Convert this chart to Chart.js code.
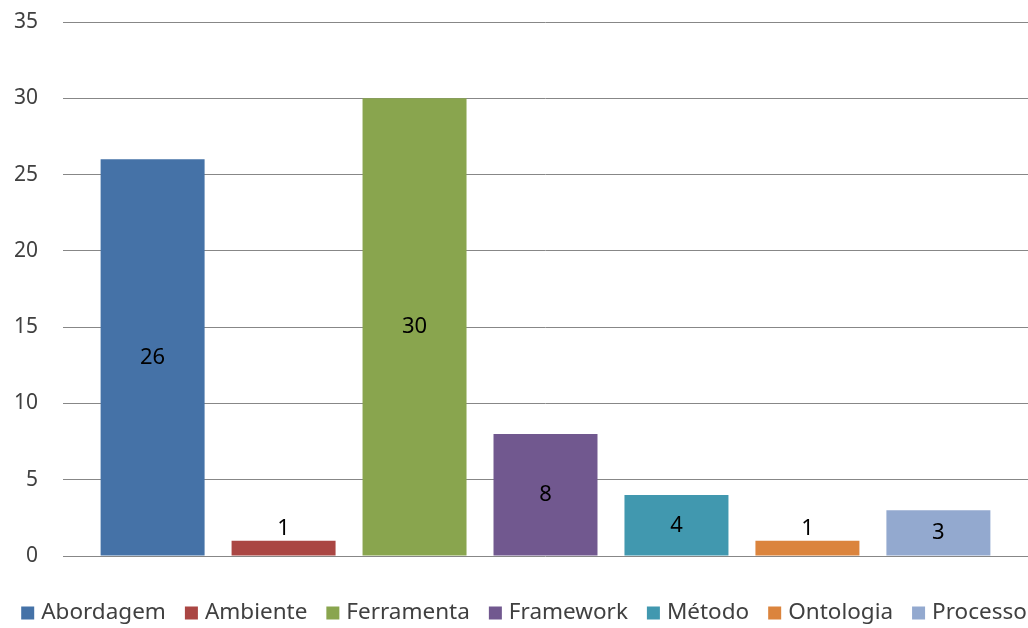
<!DOCTYPE html>
<html>
<head>
<meta charset="utf-8">
<script src="https://cdn.jsdelivr.net/npm/chart.js@4"></script>
<style>
  html, body { margin: 0; padding: 0; background: #fff; overflow: hidden; }
  .wrap { position: relative; width: 1028px; height: 628px; }
</style>
</head>
<body>
<div class="wrap"><canvas id="chart"></canvas></div>
<script>
// Categories (one series each, as in the original sheet)
const seriesNames = ['Abordagem', 'Ambiente', 'Ferramenta', 'Framework', 'Método', 'Ontologia', 'Processo'];
const seriesValues = [26, 1, 30, 8, 4, 1, 3];
const seriesColors = ['#4572A7', '#AA4643', '#89A54E', '#71588F', '#4198AF', '#DB843D', '#93A9CF'];
const yTicks = [0, 5, 10, 15, 20, 25, 30, 35];

const FONT = '"Noto Sans", "Open Sans", sans-serif';

// value labels: centred in the bar, or just above it when the bar is too short
const valueLabels = {
    id: 'valueLabels',
    afterDatasetsDraw: function (chart) {
        const ctx = chart.ctx;
        ctx.save();
        ctx.font = '22px ' + FONT;
        ctx.fillStyle = '#000';
        ctx.textAlign = 'center';
        ctx.textBaseline = 'middle';
        chart.data.datasets.forEach(function (ds, i) {
            const bar = chart.getDatasetMeta(i).data[0];
            if (!bar) return;
            const h = bar.base - bar.y;
            const y = h > 30 ? (bar.y + bar.base) / 2 : bar.y - 12;
            ctx.fillText(String(ds.data[0]), bar.x, y);
        });
        ctx.restore();
    }
};

// Excel-style legend row along the bottom (tighter spacing than Chart.js's own)
const bottomLegend = {
    id: 'bottomLegend',
    afterDraw: function (chart) {
        const ctx = chart.ctx;
        const box = 13, gap = 7, space = 19, yMid = 613;
        ctx.save();
        ctx.font = '22.5px ' + FONT;
        ctx.textBaseline = 'middle';
        const items = chart.data.datasets.map(function (ds) {
            return { text: ds.label, color: ds.backgroundColor, w: ctx.measureText(ds.label).width };
        });
        let total = -space;
        items.forEach(function (it) { total += box + gap + it.w + space; });
        let x = (chart.width - total) / 2 + 10;
        items.forEach(function (it) {
            ctx.fillStyle = it.color;
            ctx.fillRect(x, yMid - box / 2, box, box);
            ctx.fillStyle = '#404040';
            ctx.fillText(it.text, x + box + gap, yMid);
            x += box + gap + it.w + space;
        });
        ctx.restore();
    }
};

new Chart(document.getElementById('chart'), {
    type: 'bar',
    data: {
        labels: [''],
        datasets: seriesNames.map(function (name, i) {
            return {
                label: name,
                data: [seriesValues[i]],
                backgroundColor: seriesColors[i],
                borderWidth: 0,
                categoryPercentage: 0.95,
                barPercentage: 0.794
            };
        })
    },
    options: {
        responsive: true,
        maintainAspectRatio: false,
        animation: false,
        layout: { padding: { top: 22, right: 0, bottom: 72, left: 0 } },
        scales: {
            x: { display: false },
            y: {
                min: 0, max: 35,
                afterBuildTicks: function (scale) {
                    scale.ticks = yTicks.map(function (v) { return { value: v }; });
                },
                afterFit: function (scale) { scale.width = 63; },
                grid: { color: '#878787', lineWidth: 1, drawTicks: true, tickLength: 25, tickColor: 'rgba(0,0,0,0)' },
                border: { display: false },
                ticks: { padding: 0, color: '#404040', font: { family: FONT, size: 21 } }
            }
        },
        plugins: {
            legend: { display: false },
            tooltip: { enabled: false }
        }
    },
    plugins: [valueLabels, bottomLegend]
});
</script>
</body>
</html>
